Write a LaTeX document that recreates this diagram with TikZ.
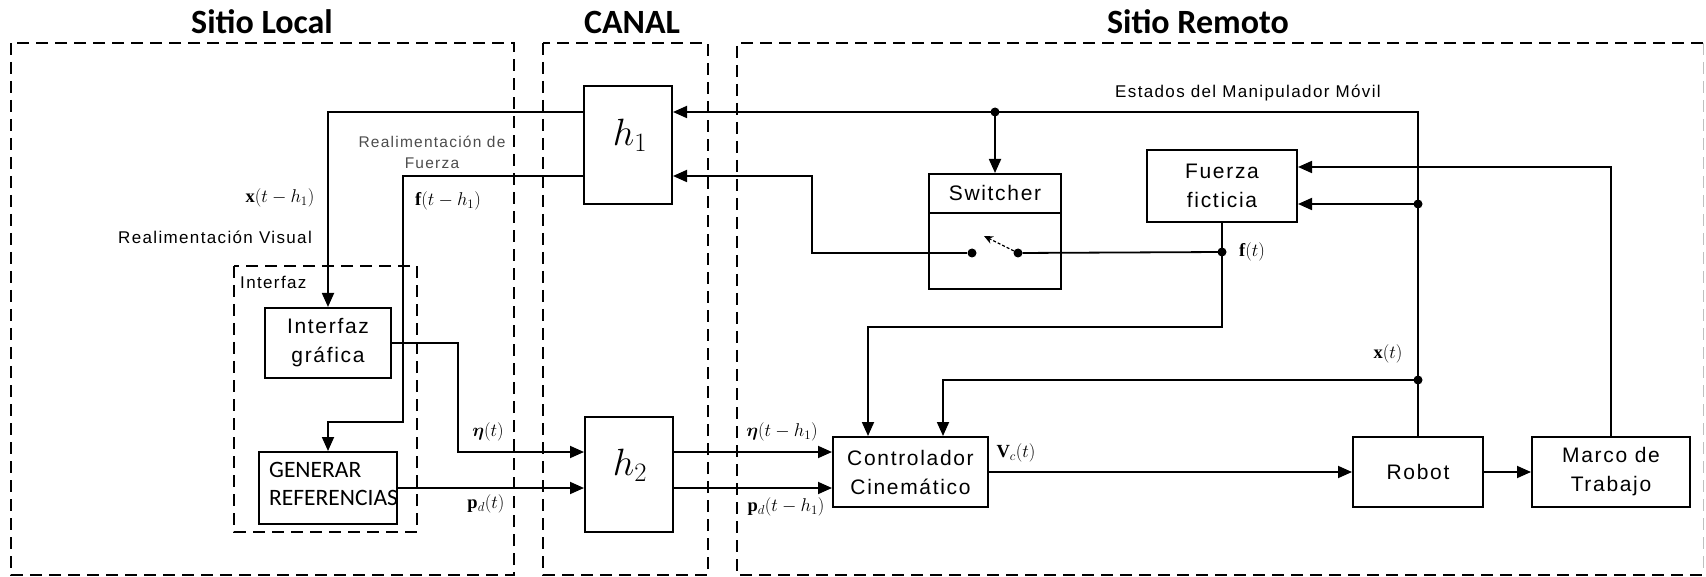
\RequirePackage{fix-cm}
\documentclass[tikz,border=0pt]{standalone}
\usepackage{amsmath}
\usepackage{fontspec}
\setmainfont{Liberation Serif}
\newfontfamily\lblfont[LetterSpace=8]{Liberation Sans}
\newfontfamily\calfont{Carlito}
\usetikzlibrary{arrows.meta}
\begin{document}
\begin{tikzpicture}[x=1pt,y=-1pt,
  box/.style={draw, line width=2pt, inner sep=0pt, align=center, font=\lblfont\fontsize{21}{29}\selectfont},
  conn/.style={line width=1.8pt},
  arr/.style={conn, -{Triangle[length=14pt,width=12pt]}},
  region/.style={draw, line width=1.8pt, dash pattern=on 12pt off 7pt},
  lbl/.style={inner sep=0pt, font=\lblfont\fontsize{17}{21}\selectfont},
  mlbl/.style={inner sep=0pt, font=\fontsize{18.5}{20}\selectfont},
  bigm/.style={inner sep=0pt, font=\fontsize{38}{40}\selectfont},
  title/.style={inner sep=0pt, font=\calfont\bfseries\fontsize{34}{40}\selectfont},
  dot/.style={circle, fill, inner sep=0pt, minimum size=9pt}
]
\useasboundingbox (0,0) rectangle (1706,577);

% titles
\node[title] (tl) at (262,22) {Sitio Local};
\node[title] (tc) at (632,22) {CANAL};
\node[title] (tr) at (1198,22) {Sitio Remoto};

% regions
\draw[region] (11,43) rectangle (514,575);
\draw[region] (543,43) rectangle (708,575);
\draw[region] (1703,43) -- (737,43) -- (737,575) -- (1706,575);
\draw[line width=1pt, gray!50, dash pattern=on 12pt off 7pt] (1703,43) -- (1703,575);
\draw[line width=1.8pt, dash pattern=on 12pt off 7pt] (234,266) rectangle (417,532);
\node[lbl, anchor=west] (lint) at (240,282) {Interfaz};

% blocks
\node[box, minimum width=88pt, minimum height=118pt] (h1) at (628,145) {};
\node[bigm] (h1t) at (630,135) {$h_1$};
\node[box, minimum width=88pt, minimum height=115pt] (h2) at (629,474.5) {};
\node[bigm] (h2t) at (630,465) {$h_2$};
\node[box, minimum width=126pt, minimum height=70pt] (ig) at (328,343) {Interfaz\\gráfica};
\node[box, minimum width=138pt, minimum height=72pt] (gr) at (328,488) {};
\node[anchor=west, align=left, inner sep=0pt, font=\calfont\fontsize{23.5}{28}\selectfont] (grt) at (269,484) {GENERAR\\REFERENCIAS};
\node[box, minimum width=132pt, minimum height=115pt] (sw) at (995,231.5) {};
\node[inner sep=0pt, font=\lblfont\fontsize{21}{29}\selectfont] (swt) at (995,193) {Switcher};
\coordinate (sdiv) at (995,213);
\draw[line width=2pt] (sw.west |- sdiv) -- (sw.east |- sdiv);
\node[box, minimum width=150pt, minimum height=72pt] (ff) at (1222,186) {Fuerza\\ficticia};
\node[box, minimum width=155pt, minimum height=70pt] (ctrl) at (910.5,472) {Controlador\\Cinemático};
\node[box, minimum width=130pt, minimum height=70pt] (robot) at (1418,472) {Robot};
\node[box, minimum width=158pt, minimum height=70pt] (marco) at (1611,472) {Marco de\\Trabajo};

% coordinates
\coordinate (jtop) at (1418,112);
\coordinate (jsw) at (995,112);
\coordinate (jff) at (1418,204);
\coordinate (jx) at (1418,380);
\coordinate (jf) at (1222,252);
\coordinate (cx1) at (868,327);
\coordinate (cx2) at (943,380);
\coordinate (mc) at (1611,167);
\coordinate (c812a) at (812,253);
\coordinate (c812b) at (812,176);
\coordinate (cl1) at (328,112);
\coordinate (cl2) at (403,176);
\coordinate (cl3) at (403,422);
\coordinate (cl4) at (328,422);
\coordinate (ce1) at (458,343);
\coordinate (ce2) at (458,452);
\coordinate (swA) at (984,236);

% switch contacts
\node[dot] (swL) at (972,253) {};
\node[dot] (swR) at (1018,253) {};
\draw[line width=1.3pt, dash pattern=on 3pt off 2pt, -{Stealth[length=9pt,width=8pt]}] (swR) -- (swA);

% connectors
\draw[arr] (robot.north) -- (jtop) -- (h1.east |- jtop);
\draw[arr] (jsw) -- (sw.north);
\draw[arr] (jff) -- (ff.east |- jff);
\draw[arr] (jx) -- (cx2) -- (cx2 |- ctrl.north);
\draw[arr] (marco.north) -- (mc) -- (ff.east |- mc);
\draw[arr] (ff.south) -- (ff.south |- cx1) -- (cx1) -- (cx1 |- ctrl.north);
\draw[conn] (jf) -- (swR);
\draw[arr] (swL) -- (c812a) -- (c812b) -- (h1.east |- c812b);
\draw[arr] (h1.west |- jtop) -- (cl1) -- (ig.north);
\draw[arr] (h1.west |- c812b) -- (cl2) -- (cl3) -- (cl4) -- (gr.north);
\draw[arr] (ig.east) -- (ce1) -- (ce2) -- (h2.west |- ce2);
\draw[arr] (gr.east) -- (h2.west |- gr.east);
\draw[arr] (h2.east |- ce2) -- (ctrl.west |- ce2);
\draw[arr] (h2.east |- gr.east) -- (ctrl.west |- gr.east);
\draw[arr] (ctrl.east) -- (robot.west);
\draw[arr] (robot.east) -- (marco.west);

% junction dots
\node[dot] (djsw) at (jsw) {};
\node[dot] (djff) at (jff) {};
\node[dot] (djx) at (jx) {};
\node[dot] (djf) at (jf) {};

% labels
\node[lbl, anchor=west] (lest) at (1115,93) {Estados del Manipulador Móvil};
\node[lbl, align=center, text=black!70, font=\lblfont\fontsize{15.5}{21}\selectfont] (lrf) at (432,152) {Realimentación de\\Fuerza};
\node[lbl] (lrv) at (215,237) {Realimentación Visual};
\node[mlbl] (lx1) at (280,198) {$\mathbf{x}(t-h_1)$};
\node[mlbl] (lf1) at (448,201) {$\mathbf{f}(t-h_1)$};
\node[mlbl] (leta) at (488,432) {$\boldsymbol{\eta}(t)$};
\node[mlbl] (lpd) at (486,504) {$\mathbf{p}_d(t)$};
\node[mlbl] (leta1) at (782,432) {$\boldsymbol{\eta}(t-h_1)$};
\node[mlbl] (lpd1) at (786,507) {$\mathbf{p}_d(t-h_1)$};
\node[mlbl] (lvc) at (1016,453) {$\mathbf{V}_c(t)$};
\node[mlbl] (lft) at (1252,252) {$\mathbf{f}(t)$};
\node[mlbl] (lxt) at (1388,354) {$\mathbf{x}(t)$};
\end{tikzpicture}
\end{document}
